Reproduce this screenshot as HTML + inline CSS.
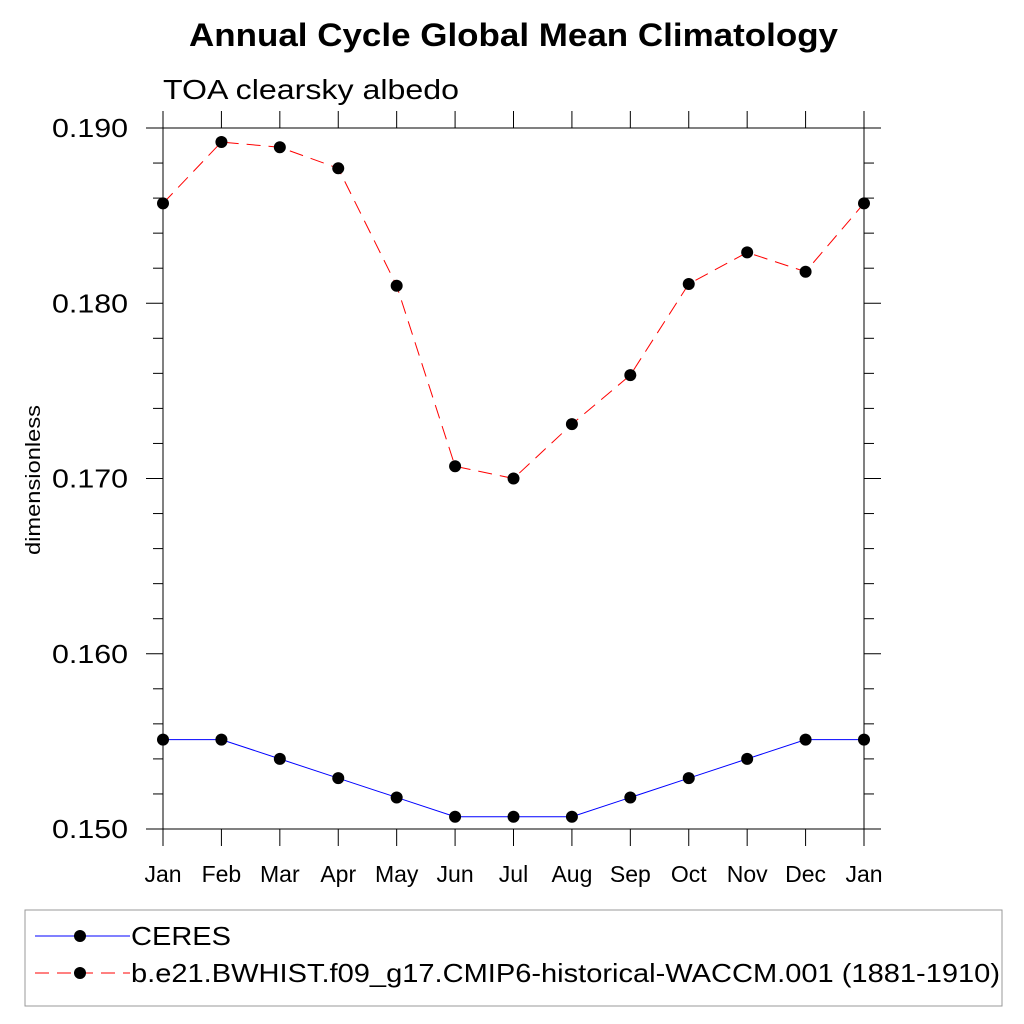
<!DOCTYPE html>
<html><head><meta charset="utf-8"><style>body{margin:0;background:#fff}svg{display:block}text{font-family:"Liberation Sans",sans-serif}</style></head>
<body>
<svg id="c" width="1024" height="1024">
<text x="189" y="46" textLength="649" lengthAdjust="spacingAndGlyphs" font-size="32" font-weight="bold">Annual Cycle Global Mean Climatology</text>
<text x="163" y="99" textLength="296" lengthAdjust="spacingAndGlyphs" font-size="28">TOA clearsky albedo</text>
<text transform="translate(40,555) rotate(-90)" textLength="150" lengthAdjust="spacingAndGlyphs" font-size="20">dimensionless</text>
<g id="axes"></g><g id="series"></g>
<rect x="25" y="910" width="977" height="96" fill="none" stroke="#999" stroke-width="1"/>
<g><line x1="35" y1="936" x2="130" y2="936" stroke="#00f" stroke-width="1"/><circle cx="80" cy="936" r="6" fill="#000"/><text x="131" y="945" textLength="100" lengthAdjust="spacingAndGlyphs" font-size="26">CERES</text></g>
<g><line x1="35" y1="973" x2="130" y2="973" stroke="#f00" stroke-width="1" stroke-dasharray="14,8"/><circle cx="80" cy="973" r="6" fill="#000"/><text x="131" y="982" textLength="869" lengthAdjust="spacingAndGlyphs" font-size="26">b.e21.BWHIST.f09_g17.CMIP6-historical-WACCM.001 (1881-1910)</text></g>
</svg>
<script>
const months=["Jan","Feb","Mar","Apr","May","Jun","Jul","Aug","Sep","Oct","Nov","Dec","Jan"];
const yTicks=[0.150,0.160,0.170,0.180,0.190];
const yTickLabels=["0.150","0.160","0.170","0.180","0.190"];
const ceres=[0.1551,0.1551,0.1540,0.1529,0.1518,0.1507,0.1507,0.1507,0.1518,0.1529,0.1540,0.1551,0.1551];
const waccm=[0.1857,0.1892,0.1889,0.1877,0.1810,0.1707,0.1700,0.1731,0.1759,0.1811,0.1829,0.1818,0.1857];
const L=163,R=864,T=128,B=829,ymin=0.150,ymax=0.190;
const X=i=>L+(R-L)*i/(months.length-1);
const Y=v=>B-(v-ymin)/(ymax-ymin)*(B-T);
const NS="http://www.w3.org/2000/svg";
function mk(tag,attrs,parent){const e=document.createElementNS(NS,tag);for(const k in attrs)e.setAttribute(k,attrs[k]);parent.appendChild(e);return e;}
const ax=document.getElementById('axes'),se=document.getElementById('series');
const frame=mk('rect',{x:L,y:T,width:R-L,height:B-T,fill:'none',stroke:'#000','stroke-width':1},ax);


for(let v=ymin;v<=ymax+1e-9;v+=0.002){const y=Y(v);const maj=Math.abs((v*1000)%10)<0.01||Math.abs((v*1000)%10-10)<0.01;const len=maj?17:10;
mk('line',{x1:L-len,y1:y,x2:L,y2:y,stroke:'#000'},ax);mk('line',{x1:R,y1:y,x2:R+len,y2:y,stroke:'#000'},ax);}
yTicks.forEach((v,i)=>{const t=mk('text',{x:52,y:Y(v)+9,textLength:76,lengthAdjust:'spacingAndGlyphs','font-size':26},ax);t.textContent=yTickLabels[i];

});
months.forEach((m,i)=>{const x=X(i);mk('line',{x1:x,y1:T-17,x2:x,y2:T,stroke:'#000'},ax);mk('line',{x1:x,y1:B,x2:x,y2:B+17,stroke:'#000'},ax);
const t=mk('text',{x:x,y:882,'text-anchor':'middle','font-size':23},ax);t.textContent=m;

});
function series(vals,color,dash,name){const p=mk('polyline',{points:vals.map((v,i)=>X(i)+','+Y(v)).join(' '),fill:'none',stroke:color,'stroke-width':1,'stroke-dasharray':dash},se);


vals.forEach((v,i)=>{const c=mk('circle',{cx:X(i),cy:Y(v),r:6,fill:'#000'},se);

});}
series(ceres,'#00f','none','ceres');
series(waccm,'#f00','14,8','waccm');
</script>
</body></html>
